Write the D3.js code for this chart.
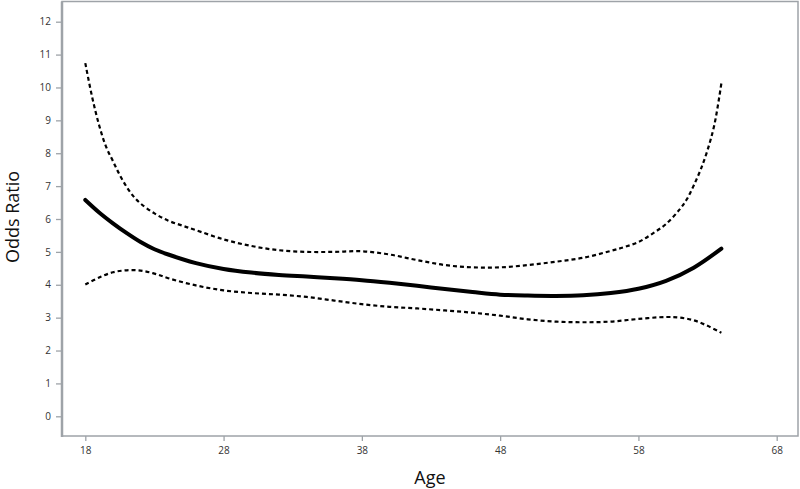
<!DOCTYPE html>
<html><head><meta charset="utf-8">
<script src="https://cdn.jsdelivr.net/npm/d3@7"></script>
<style>body{margin:0;background:#fff}svg{display:block}</style>
</head><body>
<svg id="c" width="800" height="489"></svg>
<script>
const xTicks = [18, 28, 38, 48, 58, 68];
const yTicks = [0,1,2,3,4,5,6,7,8,9,10,11,12];

const mainAges = [18,19,20,21,22,23,24,26,28,30,32,34,36,38,40,42,44,46,48,50,52,54,56,58,60,62,64];
const mainOR   = [6.58,6.2,5.87,5.57,5.30,5.08,4.92,4.66,4.48,4.37,4.30,4.25,4.20,4.14,4.06,3.97,3.87,3.78,3.70,3.67,3.66,3.68,3.75,3.88,4.12,4.52,5.1];

const upperAges = [18,18.5,19,19.5,20,20.5,21,21.5,22,23,24,25,26,28,30,32,34,36,38,40,42,44,46,48,50,52,54,56,57,58,59,60,61,61.5,62,62.5,63,63.5,64];
const upperOR   = [10.74,9.7,8.85,8.2,7.76,7.33,6.97,6.68,6.47,6.17,5.95,5.8,5.66,5.38,5.18,5.05,5.0,5.0,5.02,4.92,4.75,4.6,4.53,4.53,4.6,4.7,4.82,5.03,5.15,5.3,5.55,5.85,6.3,6.6,7.02,7.5,8.1,8.88,10.13];

const lowerAges = [18,19,20,21,22,23,24,26,28,30,32,34,36,38,40,42,44,46,48,50,52,54,56,58,60,61,62,63,64];
const lowerOR   = [4.01,4.22,4.38,4.44,4.43,4.34,4.2,3.98,3.83,3.75,3.7,3.63,3.52,3.41,3.33,3.28,3.22,3.15,3.06,2.95,2.88,2.86,2.88,2.96,3.02,3.0,2.92,2.75,2.54];

const svg = d3.select('#c');
const frame = {l:62, r:798, t:1.5, b:436};
const x = d3.scaleLinear().domain([18,68]).range([85.3,776.7]);
const y = d3.scaleLinear().domain([0,12]).range([416.3,21.7]);
const axisColor = '#9ea3a8';

// frame
svg.append('rect').attr('x',frame.l).attr('y',frame.t).attr('width',frame.r-frame.l).attr('height',frame.b-frame.t)
  .attr('fill','none').attr('stroke',axisColor).attr('stroke-width',1.5);
svg.append('line').attr('x1',frame.l).attr('x2',frame.l).attr('y1',frame.t).attr('y2',frame.b+1)
  .attr('stroke',axisColor).attr('stroke-width',2.5);

// y axis
const ya = svg.append('g').attr('transform',`translate(${frame.l-1},0)`)
  .call(d3.axisLeft(y).tickValues(yTicks).tickSize(5).tickPadding(5).tickFormat(d3.format('d')));
ya.select('.domain').remove();
ya.selectAll('line').attr('stroke',axisColor).attr('stroke-width',1.3);
ya.selectAll('text').attr('fill','#333').style('font-family','Open Sans, sans-serif').style('font-size','10px');

// x axis
const xa = svg.append('g').attr('transform',`translate(0,${frame.b})`)
  .call(d3.axisBottom(x).tickValues(xTicks).tickSize(5).tickPadding(6).tickFormat(d3.format('d')));
xa.select('.domain').remove();
xa.selectAll('line').attr('stroke',axisColor).attr('stroke-width',1.3);
xa.selectAll('text').attr('fill','#333').style('font-family','Open Sans, sans-serif').style('font-size','10px');

// axis titles
svg.append('text').attr('x',(frame.l+frame.r)/2).attr('y',484).attr('text-anchor','middle')
  .style('font-family','Open Sans, sans-serif').style('font-size','18px').attr('fill','#111').text('Age');
svg.append('text').attr('transform',`translate(19,217) rotate(-90)`).attr('text-anchor','middle')
  .style('font-family','Open Sans, sans-serif').style('font-size','18px').attr('fill','#111').text('Odds Ratio');

const line = d3.line().x(d=>x(d[0])).y(d=>y(d[1])).curve(d3.curveCatmullRom.alpha(0.5));
const zip = (a,b)=>a.map((v,i)=>[v,b[i]]);

svg.append('path').datum(zip(upperAges,upperOR)).attr('d',line)
  .attr('fill','none').attr('stroke','#000').attr('stroke-width',2.2).attr('stroke-dasharray','4,3');
svg.append('path').datum(zip(lowerAges,lowerOR)).attr('d',line)
  .attr('fill','none').attr('stroke','#000').attr('stroke-width',2.2).attr('stroke-dasharray','4,3');
svg.append('path').datum(zip(mainAges,mainOR)).attr('d',line)
  .attr('fill','none').attr('stroke','#000').attr('stroke-width',4).attr('stroke-linecap','round');
</script>
</body></html>
